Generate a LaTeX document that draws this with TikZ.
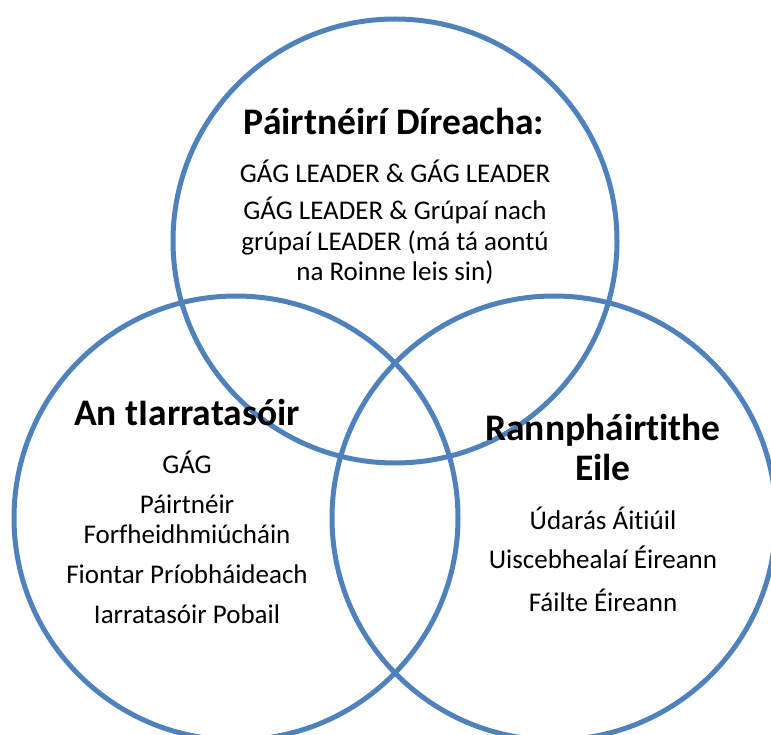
\documentclass[tikz,border=0pt]{standalone}
\usepackage{fontspec}
\setmainfont{Carlito}[Ligatures={NoCommon}]
\definecolor{vennblue}{HTML}{4F81BD}
\tikzset{>=latex}

\begin{document}
\begin{tikzpicture}[x=1pt,y=-1pt]
\useasboundingbox (0,0) rectangle (771,735);
\begin{scope}[every node/.style={circle,draw=vennblue,line width=5pt,minimum size=444pt,inner sep=0pt}]
\node (T) at (395,241) {};
\node (L) at (236,518) {};
\node (R) at (554,518) {};
\end{scope}
\begin{scope}[every node/.style={anchor=base,inner sep=0pt,font=\fontsize{27}{30}\selectfont},
    head/.style={font=\bfseries\fontsize{37.5}{40}\selectfont}]
% top circle
\node[head] (T0) at (394,135) {Páirtnéirí Díreacha:};
\node (T1) at (395,183) {GÁG LEADER \& GÁG LEADER};
\node (T2) at (395,220) {GÁG LEADER \& Grúpaí nach};
\node (T3) at (395,251) {grúpaí LEADER (má tá aontú};
\node (T4) at (395,281) {na Roinne leis sin)};

% left circle
\node[head] (L0) at (187,425) {An tIarratasóir};
\node (L1) at (187,473) {GÁG};
\node (L2) at (187,513) {Páirtnéir};
\node (L3) at (187,543) {Forfheidhmiúcháin};
\node (L4) at (187,583) {Fiontar Príobháideach};
\node (L5) at (187,623) {Iarratasóir Pobail};

% right circle
\node[head] (R0) at (603,440) {Rannpháirtithe};
\node[head] (R1) at (603,480) {Eile};
\node (R2) at (603,529) {Údarás Áitiúil};
\node (R3) at (603,568) {Uiscebhealaí Éireann};
\node (R4) at (603,611) {Fáilte Éireann};
\end{scope}
\end{tikzpicture}
\end{document}
